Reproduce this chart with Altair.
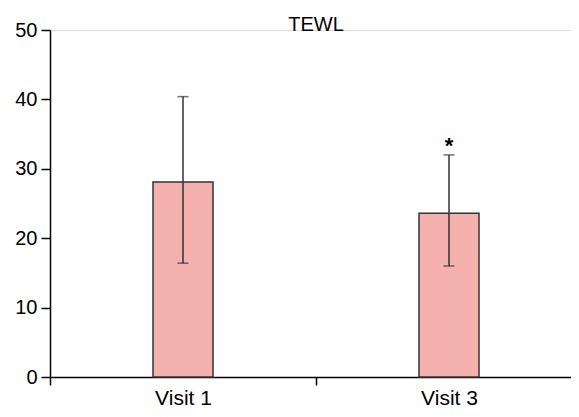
import altair as alt
import pandas as pd

visits = ["Visit 1", "Visit 3"]
means = [28.1, 23.6]
lower = [16.4, 16.0]
upper = [40.4, 32.0]
markers = ["", "*"]
title_text = "TEWL"

df = pd.DataFrame({"visit": visits, "mean": means, "lo": lower, "hi": upper, "mark": markers})

FONT = "Liberation Sans"
W, H = 521, 347
XR = 532

x = alt.X("visit:N", sort=visits, title=None,
          scale=alt.Scale(paddingInner=0, paddingOuter=0, range=[0, XR]),
          axis=alt.Axis(labelAngle=0, labelFontSize=21, labelFont=FONT, labelColor="black",
                        tickBand="extent", tickSize=8, tickColor="black", tickWidth=1.5,
                        domainColor="black", domainWidth=1.5, labelPadding=2))
y = alt.Y("mean:Q", title=None,
          scale=alt.Scale(domain=[0, 50], nice=False),
          axis=alt.Axis(values=[0, 10, 20, 30, 40, 50], labelFontSize=20, labelFont=FONT,
                        labelColor="black", tickSize=9, tickColor="black", tickWidth=1.5,
                        domainColor="black", domainWidth=1.5, grid=False, labelPadding=4))

base = alt.Chart(df)
xs = alt.X("visit:N", sort=visits)

bars = base.mark_bar(size=60, color="#f4b1ad", stroke="#333333", strokeWidth=1.5).encode(x=x, y=y)
rules = base.mark_rule(color="#333333", strokeWidth=1.5).encode(x=xs, y="lo:Q", y2="hi:Q")
caps_hi = base.mark_tick(color="#333333", size=11, thickness=1.5, orient="horizontal").encode(
    x=xs, y="hi:Q")
caps_lo = base.mark_tick(color="#333333", size=11, thickness=1.5, orient="horizontal").encode(
    x=xs, y="lo:Q")
stars = base.mark_text(fontSize=22, font=FONT, baseline="alphabetic", dy=-2, color="black",
                       fontWeight="bold").encode(x=xs, y="hi:Q", text="mark:N")
title = alt.Chart(pd.DataFrame({"t": [title_text]})).mark_text(
    fontSize=20, font=FONT, baseline="alphabetic", align="center", color="black").encode(
    x=alt.value(XR / 2), y=alt.value(1), text="t:N")

chart = alt.layer(bars, rules, caps_hi, caps_lo, stars, title).properties(
    width=W, height=H,
    autosize=alt.AutoSizeParams(type="none"),
    padding={"left": 42, "top": 22, "right": 0, "bottom": 32},
).configure_view(stroke=None).configure(background="white")

chart.save("out.html", embed_options={"renderer": "svg", "actions": False})
